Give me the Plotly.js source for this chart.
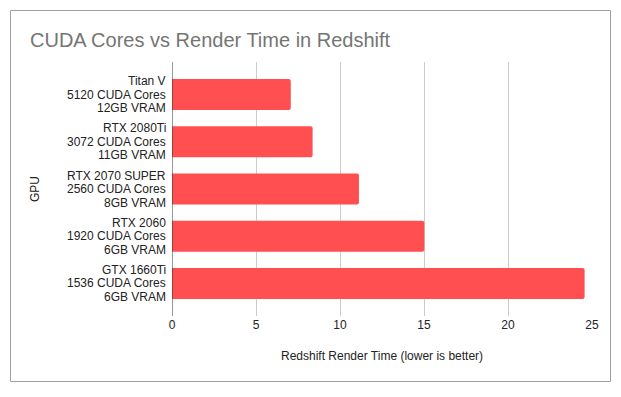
<!DOCTYPE html>
<html><head><meta charset="utf-8">
<script src="https://cdn.plot.ly/plotly-3.0.1.min.js"></script>
<style>html,body{margin:0;padding:0;background:#fff}#c{width:621px;height:397px}</style>
</head><body><div id="c"></div>
<script>
const gpuNames = ["Titan V", "RTX 2080Ti", "RTX 2070 SUPER", "RTX 2060", "GTX 1660Ti"];
const cudaCores = ["5120 CUDA Cores", "3072 CUDA Cores", "2560 CUDA Cores", "1920 CUDA Cores", "1536 CUDA Cores"];
const vram = ["12GB VRAM", "11GB VRAM", "8GB VRAM", "6GB VRAM", "6GB VRAM"];
const renderTime = [7.07, 8.37, 11.13, 15.02, 24.56];
const xTicks = [0, 5, 10, 15, 20, 25];

const gpus = gpuNames.map((n, i) => n + "<br>" + cudaCores[i] + "<br>" + vram[i]);
const font = "Liberation Sans, Arial, sans-serif";
const trace = {
  type: "bar", orientation: "h",
  x: renderTime, y: gpus,
  marker: {color: "#ff4f51", cornerradius: 2},
  hoverinfo: "none"
};
const labelAnns = [];
gpus.forEach((g, i) => {
  [gpuNames[i], cudaCores[i], vram[i]].forEach((t, j) => {
    labelAnns.push({text: t, xref: "paper", yref: "y", x: -4/420, y: g, yshift: (1 - j) * 13.5,
      xanchor: "right", yanchor: "middle", showarrow: false,
      font: {family: font, size: 12, color: "#222"}});
  });
});
const layout = {
  width: 621, height: 397,
  margin: {l: 172, r: 29, t: 62, b: 81},
  paper_bgcolor: "#fff", plot_bgcolor: "#fff",
  showlegend: false,
  bargap: 0.34,
  font: {family: font, size: 12, color: "#222"},
  title: {text: "CUDA Cores vs Render Time in Redshift", x: 30/621, xref: "container", xanchor: "left",
          y: 1 - 40/397, yref: "container", yanchor: "middle",
          font: {family: font, size: 20, color: "#757575"}},
  xaxis: {range: [0, 25], tickvals: xTicks, ticktext: xTicks.map(String),
          showgrid: true, gridcolor: "#cccccc", gridwidth: 1, zeroline: false,
          showline: false, ticks: "", tickfont: {family: font, size: 12, color: "#222"}, fixedrange: true},
  yaxis: {type: "category", categoryorder: "array", categoryarray: gpus,
          range: [4.688, -0.688], showgrid: false, zeroline: false, showline: false, ticks: "",
          showticklabels: false, fixedrange: true},
  shapes: [
    {type: "line", xref: "x", yref: "paper", x0: 0, x1: 0, y0: 0, y1: 1, line: {color: "#333", width: 1}},
    {type: "rect", xref: "paper", yref: "paper", x0: (10.5-172)/420, x1: (610.5-172)/420,
     y0: (316-381.5)/254, y1: (316-10.5)/254, line: {color: "#9e9e9e", width: 1}, fillcolor: "rgba(0,0,0,0)", layer: "below"}
  ],
  annotations: labelAnns.concat([
    {text: "GPU", xref: "paper", yref: "paper", x: (35-172)/420, y: 0.5, textangle: -90,
     showarrow: false, xanchor: "center", yanchor: "middle", font: {family: font, size: 12, color: "#222"}},
    {text: "Redshift Render Time (lower is better)", xref: "paper", yref: "paper", x: 0.5, y: (316-356)/254,
     showarrow: false, xanchor: "center", yanchor: "middle", font: {family: font, size: 12, color: "#222"}}
  ])
};
Plotly.newPlot("c", [trace], layout, {staticPlot: true, displayModeBar: false});
</script></body></html>
